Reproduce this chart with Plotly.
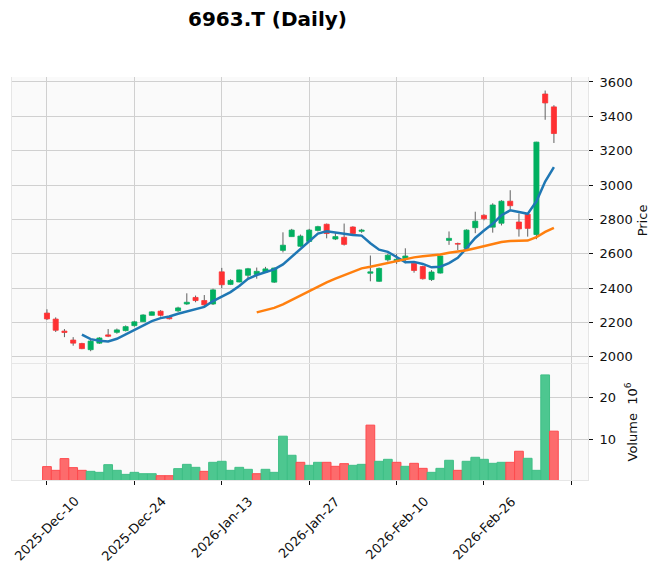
import numpy as np
import pandas as pd
import plotly.graph_objects as go

# --- data (6963.T daily) ---
dates = [
    "2025-12-10", "2025-12-11", "2025-12-12", "2025-12-15", "2025-12-16", "2025-12-17",
    "2025-12-18", "2025-12-19", "2025-12-22", "2025-12-23", "2025-12-24", "2025-12-25",
    "2025-12-26", "2025-12-29", "2025-12-30",
    "2026-01-05", "2026-01-06", "2026-01-07", "2026-01-08", "2026-01-09", "2026-01-13",
    "2026-01-14", "2026-01-15", "2026-01-16", "2026-01-19", "2026-01-20", "2026-01-21",
    "2026-01-22", "2026-01-23", "2026-01-26", "2026-01-27", "2026-01-28", "2026-01-29",
    "2026-01-30",
    "2026-02-02", "2026-02-03", "2026-02-04", "2026-02-05", "2026-02-06", "2026-02-09",
    "2026-02-10", "2026-02-12", "2026-02-13", "2026-02-16", "2026-02-17", "2026-02-18",
    "2026-02-19", "2026-02-20", "2026-02-24", "2026-02-25", "2026-02-26", "2026-02-27",
    "2026-03-02", "2026-03-03", "2026-03-04", "2026-03-05", "2026-03-06", "2026-03-09",
    "2026-03-10",
]

opens = [2255, 2220, 2150, 2098, 2078, 2042, 2080, 2128, 2143, 2153,
         2182, 2205, 2242, 2266, 2230, 2268, 2308, 2346, 2328, 2308,
         2495, 2422, 2436, 2475, 2480, 2494, 2435, 2620, 2700, 2644,
         2672, 2736, 2772, 2686, 2696, 2756, 2731, 2487, 2440, 2565,
         2555, 2572, 2545, 2526, 2450, 2488, 2678, 2660, 2632, 2752,
         2824, 2755, 2778, 2906, 2785, 2830, 2712, 3530, 3455]
highs = [2277, 2230, 2162, 2115, 2082, 2103, 2115, 2162, 2165, 2183,
         2210, 2248, 2266, 2272, 2232, 2292, 2370, 2357, 2360, 2397,
         2518, 2452, 2508, 2518, 2520, 2524, 2520, 2725, 2745, 2712,
         2745, 2763, 2776, 2720, 2776, 2760, 2745, 2590, 2520, 2600,
         2598, 2632, 2555, 2530, 2505, 2590, 2730, 2665, 2742, 2845,
         2830, 2894, 2912, 2970, 2835, 2835, 3252, 3550, 3465]
lows = [2215, 2145, 2115, 2065, 2045, 2033, 2075, 2115, 2135, 2148,
        2176, 2203, 2240, 2235, 2218, 2262, 2303, 2318, 2293, 2302,
        2400, 2418, 2434, 2450, 2455, 2490, 2430, 2608, 2698, 2640,
        2668, 2730, 2690, 2680, 2648, 2712, 2722, 2440, 2436, 2555,
        2541, 2545, 2490, 2450, 2442, 2485, 2652, 2622, 2628, 2720,
        2795, 2723, 2765, 2860, 2700, 2700, 2685, 3380, 3245]
closes = [2221, 2155, 2142, 2080, 2048, 2092, 2110, 2120, 2157, 2176,
          2204, 2244, 2262, 2242, 2222, 2285, 2318, 2328, 2303, 2390,
          2420, 2445, 2506, 2513, 2498, 2512, 2517, 2650, 2738, 2703,
          2738, 2758, 2718, 2700, 2655, 2718, 2738, 2495, 2515, 2592,
          2568, 2587, 2503, 2455, 2494, 2587, 2690, 2656, 2738, 2790,
          2804, 2884, 2906, 2880, 2745, 2748, 3250, 3478, 3300]
# volume in millions of shares
volume_m = [3.67, 2.79, 5.57, 3.43, 2.79, 2.55, 2.31, 4.13, 2.79, 1.83,
            2.31, 1.99, 1.99, 1.52, 1.52, 3.19, 4.21, 3.50, 2.55, 4.69,
            4.93, 2.79, 3.50, 3.03, 1.99, 3.03, 2.31, 10.88, 6.36, 4.69,
            3.98, 4.69, 4.69, 3.74, 4.37, 3.98, 4.21, 13.5, 4.93, 5.40,
            4.69, 3.74, 4.45, 3.26, 2.31, 3.26, 5.17, 2.79, 4.93, 5.88,
            5.40, 4.45, 4.69, 4.69, 7.31, 5.64, 2.79, 25.4, 12.07]

mav_windows = [5, 25]

# --- styling (mplfinance "yahoo"-like look) ---
UP, DOWN = "#00b060", "#fe3032"
VUP, VDOWN = "#4dc790", "#fd6b6c"
WICK = "#606060"
FACE = "#fafafa"
GRID = "#d0d0d0"
FONT = "DejaVu Sans"

df = pd.DataFrame({"Open": opens, "High": highs, "Low": lows,
                   "Close": closes, "Volume": volume_m},
                  index=pd.to_datetime(dates))
n = len(df)
idx = np.arange(n)

o = df.Open.values
c = df.Close.values
body_lo = np.minimum(o, c)
body_hi = np.maximum(o, c)
candle_colors = [UP if cc >= oo else DOWN for oo, cc in zip(o, c)]

# volume colour follows close vs previous close
prev_close = np.r_[o[0], c[:-1]]
vol_colors = [VUP if cc >= pc else VDOWN for pc, cc in zip(prev_close, c)]
vol_edges = ["#3fbf86" if cc >= pc else "#fe4a4e" for pc, cc in zip(prev_close, c)]

fig = go.Figure()

# wicks, split above / below the body so they sit behind it
wx, wy = [], []
for i in idx:
    wx += [i, i, None, i, i, None]
    wy += [df.High.values[i], body_hi[i], None, body_lo[i], df.Low.values[i], None]
fig.add_trace(go.Scatter(x=wx, y=wy, mode="lines", line=dict(color=WICK, width=1),
                         hoverinfo="skip", showlegend=False))

fig.add_trace(go.Bar(x=idx, y=body_hi - body_lo, base=body_lo, width=0.58,
                     marker=dict(color=candle_colors, line=dict(color=candle_colors, width=0.8)),
                     showlegend=False))

mav_colors = ["#1f77b4", "#ff7f0e"]
for w, col in zip(mav_windows, mav_colors):
    ma = df.Close.rolling(w).mean()
    fig.add_trace(go.Scatter(x=idx, y=ma.values, mode="lines",
                             line=dict(color=col, width=2.5), showlegend=False))

fig.add_trace(go.Bar(x=idx, y=df.Volume.values, width=1.0, yaxis="y2",
                     marker=dict(color=vol_colors, line=dict(color=vol_edges, width=1)),
                     showlegend=False))

# x ticks every 10 sessions, labelled like mplfinance (label centred on tick)
tick_pos = list(range(0, 61, 10))
axis_font = dict(family=FONT, size=13, color="#101010")
for p in tick_pos:
    if p >= n:
        continue
    fig.add_annotation(x=p, xref="x", y=0, yref="paper",
                       text=df.index[p].strftime("%Y-%b-%d"), showarrow=False,
                       textangle=-45, xanchor="center", yanchor="top", yshift=-11,
                       font=axis_font)

# html page has an 8px body margin, so the figure is drawn 8px smaller
fig.update_layout(
    width=654, height=564,
    margin=dict(l=4, r=74, t=69, b=92),
    paper_bgcolor="white",
    plot_bgcolor=FACE,
    barmode="overlay",
    title=dict(text="<b>6963.T (Daily)</b>", xref="container", x=259.5 / 654,
               xanchor="center", yref="container", y=1 - 11 / 564, yanchor="middle",
               font=dict(family=FONT, size=20, color="black")),
    xaxis=dict(range=[-4.0, 61.9], tickvals=tick_pos, showticklabels=False,
               ticks="outside", ticklen=4, tickcolor="#101010",
               showgrid=True, gridcolor=GRID, gridwidth=1.3, zeroline=False,
               showline=True, linecolor="#e6e6e6", mirror=True, automargin=False,
               anchor="y2"),
    yaxis=dict(domain=[0.288, 1.0], range=[1959, 3629], dtick=200, side="right",
               ticks="outside", ticklen=4, tickcolor="#101010", tickfont=axis_font,
               ticklabelstandoff=4,
               showgrid=True, gridcolor=GRID, gridwidth=1.3, zeroline=False,
               showline=True, linecolor="#e6e6e6", mirror=True, automargin=False,
               title=dict(text="Price", font=axis_font, standoff=6), anchor="x"),
    yaxis2=dict(domain=[0.0, 0.288], range=[0.5, 28.0], tickvals=[10, 20], side="right",
                ticks="outside", ticklen=4, tickcolor="#101010", tickfont=axis_font,
                ticklabelstandoff=4,
                showgrid=True, gridcolor=GRID, gridwidth=1.3, zeroline=False,
                showline=True, linecolor="#e6e6e6", mirror=True, automargin=False,
                title=dict(text="Volume  10<sup>6</sup>", font=axis_font, standoff=12),
                anchor="x"),
)

fig.write_html("out.html")
